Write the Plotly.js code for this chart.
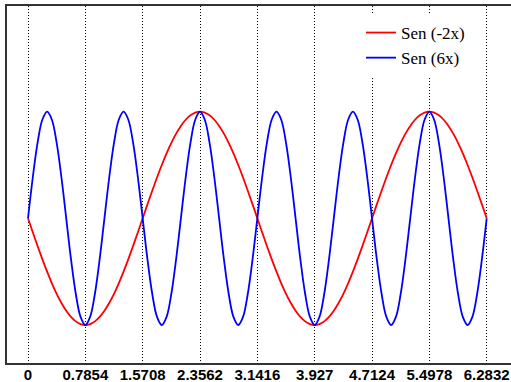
<!DOCTYPE html>
<html>
<head>
<meta charset="utf-8">
<script src="https://cdn.plot.ly/plotly-3.0.1.min.js"></script>
<style>html,body{margin:0;padding:0;background:#fff}#chart{width:511px;height:382px}</style>
</head>
<body>
<div id="chart"></div>
<script>
var xValues = [0,0.0654,0.1309,0.1963,0.2618,0.3272,0.3927,0.4581,0.5236,0.5890,0.6545,0.7199,0.7854,0.8508,0.9163,0.9817,1.0472,1.1126,1.1781,1.2435,1.3090,1.3744,1.4399,1.5053,1.5708,1.6362,1.7017,1.7671,1.8326,1.8980,1.9635,2.0289,2.0944,2.1598,2.2253,2.2907,2.3562,2.4216,2.4871,2.5525,2.6180,2.6834,2.7489,2.8143,2.8798,2.9452,3.0107,3.0761,3.1416,3.2070,3.2725,3.3379,3.4034,3.4688,3.5343,3.5997,3.6652,3.7306,3.7961,3.8615,3.9270,3.9924,4.0579,4.1233,4.1888,4.2542,4.3197,4.3851,4.4506,4.5160,4.5815,4.6469,4.7124,4.7778,4.8433,4.9087,4.9742,5.0396,5.1051,5.1705,5.2360,5.3014,5.3669,5.4323,5.4978,5.5632,5.6287,5.6941,5.7596,5.8250,5.8905,5.9559,6.0214,6.0868,6.1523,6.2177,6.2832];

var senMinus2x = [0,-0.1305,-0.2588,-0.3827,-0.5,-0.6088,-0.7071,-0.7934,-0.8660,-0.9239,-0.9659,-0.9914,-1,-0.9914,-0.9659,-0.9239,-0.8660,-0.7934,-0.7071,-0.6088,-0.5,-0.3827,-0.2588,-0.1305,
0,0.1305,0.2588,0.3827,0.5,0.6088,0.7071,0.7934,0.8660,0.9239,0.9659,0.9914,1,0.9914,0.9659,0.9239,0.8660,0.7934,0.7071,0.6088,0.5,0.3827,0.2588,0.1305,
0,-0.1305,-0.2588,-0.3827,-0.5,-0.6088,-0.7071,-0.7934,-0.8660,-0.9239,-0.9659,-0.9914,-1,-0.9914,-0.9659,-0.9239,-0.8660,-0.7934,-0.7071,-0.6088,-0.5,-0.3827,-0.2588,-0.1305,
0,0.1305,0.2588,0.3827,0.5,0.6088,0.7071,0.7934,0.8660,0.9239,0.9659,0.9914,1,0.9914,0.9659,0.9239,0.8660,0.7934,0.7071,0.6088,0.5,0.3827,0.2588,0.1305,0];

var sen6x = [0,0.3827,0.7071,0.9239,1,0.9239,0.7071,0.3827,0,-0.3827,-0.7071,-0.9239,-1,-0.9239,-0.7071,-0.3827,
0,0.3827,0.7071,0.9239,1,0.9239,0.7071,0.3827,0,-0.3827,-0.7071,-0.9239,-1,-0.9239,-0.7071,-0.3827,
0,0.3827,0.7071,0.9239,1,0.9239,0.7071,0.3827,0,-0.3827,-0.7071,-0.9239,-1,-0.9239,-0.7071,-0.3827,
0,0.3827,0.7071,0.9239,1,0.9239,0.7071,0.3827,0,-0.3827,-0.7071,-0.9239,-1,-0.9239,-0.7071,-0.3827,
0,0.3827,0.7071,0.9239,1,0.9239,0.7071,0.3827,0,-0.3827,-0.7071,-0.9239,-1,-0.9239,-0.7071,-0.3827,
0,0.3827,0.7071,0.9239,1,0.9239,0.7071,0.3827,0,-0.3827,-0.7071,-0.9239,-1,-0.9239,-0.7071,-0.3827,0];

var tickValues = [0,0.7854,1.5708,2.3562,3.1416,3.927,4.7124,5.4978,6.2832];
var tickLabels = ['0','0.7854','1.5708','2.3562','3.1416','3.927','4.7124','5.4978','6.2832'];
var seriesNames = ['Sen (-2x)','Sen (6x)'];

var traces = [
  {x: xValues, y: senMinus2x, name: seriesNames[0], mode: 'lines', line: {color: '#ff0000', width: 1.8, shape: 'spline'}},
  {x: xValues, y: sen6x, name: seriesNames[1], mode: 'lines', line: {color: '#0000ff', width: 1.8, shape: 'spline'}}
];

var layout = {
  width: 511, height: 382,
  margin: {l: 7, r: 0, t: 6, b: 19, pad: 0},
  paper_bgcolor: '#ffffff', plot_bgcolor: '#ffffff',
  showlegend: true,
  legend: {xref: 'paper', font: {family: 'Liberation Serif', size: 17, color: '#000'}, bgcolor: '#ffffff', borderwidth: 0, tracegroupgap: 0},
  xaxis: {
    range: [-0.2877, 6.616], tickmode: 'array', tickvals: tickValues,
    ticktext: tickLabels.map(function (t) { return '<b>' + t + '</b>'; }),
    showgrid: true, gridcolor: '#000000', gridwidth: 1, griddash: '1px,2px', zeroline: false,
    showline: true, linecolor: '#333333', linewidth: 2, mirror: true, ticks: '',
    ticklabelstandoff: -3,
    tickfont: {family: 'Liberation Sans, Arial, sans-serif', size: 15, color: '#000'}
  },
  yaxis: {
    range: [-1.356, 1.99], showticklabels: false, showgrid: false, zeroline: false,
    showline: true, linecolor: '#333333', linewidth: 2, ticks: ''
  }
};
layout.legend.x = (361 - 7) / 504;
layout.legend.y = (382 - 19 - 15) / 357;
layout.legend.xanchor = 'left';
layout.legend.yanchor = 'top';

Plotly.newPlot('chart', traces, layout, {displayModeBar: false, staticPlot: true});
</script>
</body>
</html>
